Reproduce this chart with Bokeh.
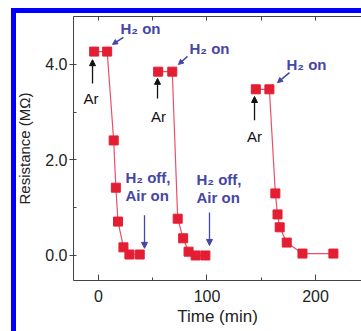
from bokeh.plotting import figure
from bokeh.models import Range1d, LinearAxis, FixedTicker, Arrow, NormalHead
from bokeh.core.properties import value
from bokeh.embed import file_html
from bokeh.resources import INLINE

# ---- data (time in min, resistance in MOhm) ----
c1_time = [-4, 8, 14, 16, 18, 23, 28.5, 38]
c1_res = [4.27, 4.27, 2.41, 1.42, 0.71, 0.17, 0.02, 0.02]
c2_time = [55, 68, 73, 78, 83, 89.5, 98.5]
c2_res = [3.85, 3.85, 0.77, 0.36, 0.08, 0.0, 0.0]
c3_time = [145, 157.5, 163, 165, 167, 173.5, 188, 216.5]
c3_res = [3.48, 3.48, 1.30, 0.86, 0.59, 0.27, 0.04, 0.04]

x_ticks = [0, 100, 200]
x_minor = [50, 150]
y_ticks = [0, 2, 4]
y_minor = [1, 3]
y_tick_labels = {0: "0.0", 2: "2.0", 4: "4.0"}

# annotation anchors (data units)
ar_x = [-6.9, 55.3, 143.8]
ar_y = [3.29, 2.91, 2.49]
ar_arrow = [(-5.5, 3.60, -5.5, 4.10), (54.4, 3.29, 54.4, 3.71), (143.8, 2.83, 143.8, 3.33)]
on_x = [20.3, 83.9, 173.3]
on_y = [4.75, 4.34, 4.0]
on_arrow = [(23.0, 4.57, 12.9, 4.42), (82.0, 4.17, 73.7, 4.0), (176.0, 3.83, 165.0, 3.62)]
off_x = [24.9, 90.3]
off_y1 = [1.63, 1.59]
off_y2 = [1.26, 1.21]
off_arrow = [(42.4, 0.84, 42.4, 0.15), (102.3, 0.90, 102.3, 0.21)]

FONT = "Liberation Sans"
RED = "#e41e32"
LINE = "#e8506a"
BLUE = "#4646a6"
AX = "#444444"

p = figure(width=361, height=331, x_range=Range1d(-23.04, 242.4), y_range=Range1d(-0.524, 5.005),
           output_backend="svg", toolbar_location=None,
           min_border_left=73, min_border_right=0, min_border_top=16, min_border_bottom=51)
p.outline_line_color = None
p.xgrid.visible = False
p.ygrid.visible = False
p.background_fill_color = "white"
p.border_fill_color = None
# blue panel frame strips (left and top) behind the transparent border area
p.styles = {
    "background": "linear-gradient(#0000ff, #0000ff) 11px 8px / 5px 323px no-repeat, "
                  "linear-gradient(#0000ff, #0000ff) 11px 8px / 350px 5px no-repeat, #ffffff"
}

xa = p.xaxis[0]
xa.ticker = FixedTicker(ticks=x_ticks, minor_ticks=x_minor)
xa.axis_label = "Time (min)"
xa.major_tick_in = 6
xa.major_tick_out = 0
xa.minor_tick_in = 3
xa.minor_tick_out = 0
xa.major_label_standoff = 9
xa.axis_label_standoff = 2

ya = p.yaxis[0]
ya.ticker = FixedTicker(ticks=y_ticks, minor_ticks=y_minor)
ya.major_label_overrides = y_tick_labels
ya.axis_label = "Resistance (MΩ)"
ya.major_tick_in = 3
ya.major_tick_out = 4
ya.minor_tick_in = 3
ya.minor_tick_out = 0
ya.major_label_standoff = 2
ya.axis_label_standoff = 9

for ax in (xa, ya):
    ax.axis_line_color = AX
    ax.major_tick_line_color = AX
    ax.minor_tick_line_color = AX
    ax.major_label_text_font = FONT
    ax.major_label_text_font_size = "16px"
    ax.major_label_text_color = "#222222"
    ax.axis_label_text_font = FONT
    ax.axis_label_text_font_style = "normal"
    ax.axis_label_text_color = "#222222"
xa.axis_label_text_font_size = "17px"
ya.axis_label_text_font_size = "15px"

# top frame line with inward ticks only (no labels)
top = LinearAxis(ticker=FixedTicker(ticks=[], minor_ticks=x_ticks + x_minor))
top.minor_tick_in = 4
top.minor_tick_out = 0
top.major_label_standoff = 0
top.axis_line_color = AX
top.minor_tick_line_color = AX
p.add_layout(top, "above")

for t, r in ((c1_time, c1_res), (c2_time, c2_res), (c3_time, c3_res)):
    p.line(t, r, line_color=LINE, line_width=1.2)
    p.scatter(t, r, marker="square", size=9, fill_color=RED, line_color=RED)

# Ar labels and arrows
p.text(ar_x, ar_y, text=["Ar"] * 3, text_font=value(FONT), text_font_size="15px",
       text_color="#111111", text_align="center", text_baseline="middle")
for xs, ys, xe, ye in ar_arrow:
    p.add_layout(Arrow(x_start=xs, y_start=ys, x_end=xe, y_end=ye, line_color="#111111", line_width=1.3,
                       end=NormalHead(size=6, fill_color="#111111", line_color="#111111")))

# H2 on
p.text(on_x, on_y, text=["H₂ on"] * 3, text_font=value(FONT), text_font_size="15px",
       text_font_style="bold", text_color=BLUE, text_align="left", text_baseline="middle")
for xs, ys, xe, ye in on_arrow:
    p.add_layout(Arrow(x_start=xs, y_start=ys, x_end=xe, y_end=ye, line_color=BLUE, line_width=1.5,
                       end=NormalHead(size=5, fill_color=BLUE, line_color=BLUE)))

# H2 off, Air on
p.text(off_x, off_y1, text=["H₂ off,"] * 2, text_font=value(FONT), text_font_size="15px",
       text_font_style="bold", text_color=BLUE, text_align="left", text_baseline="middle")
p.text(off_x, off_y2, text=["Air on"] * 2, text_font=value(FONT), text_font_size="15px",
       text_font_style="bold", text_color=BLUE, text_align="left", text_baseline="middle")
for xs, ys, xe, ye in off_arrow:
    p.add_layout(Arrow(x_start=xs, y_start=ys, x_end=xe, y_end=ye, line_color=BLUE, line_width=1.3,
                       end=NormalHead(size=6, fill_color=BLUE, line_color=BLUE)))

open("out.html", "w").write(file_html(p, INLINE))
